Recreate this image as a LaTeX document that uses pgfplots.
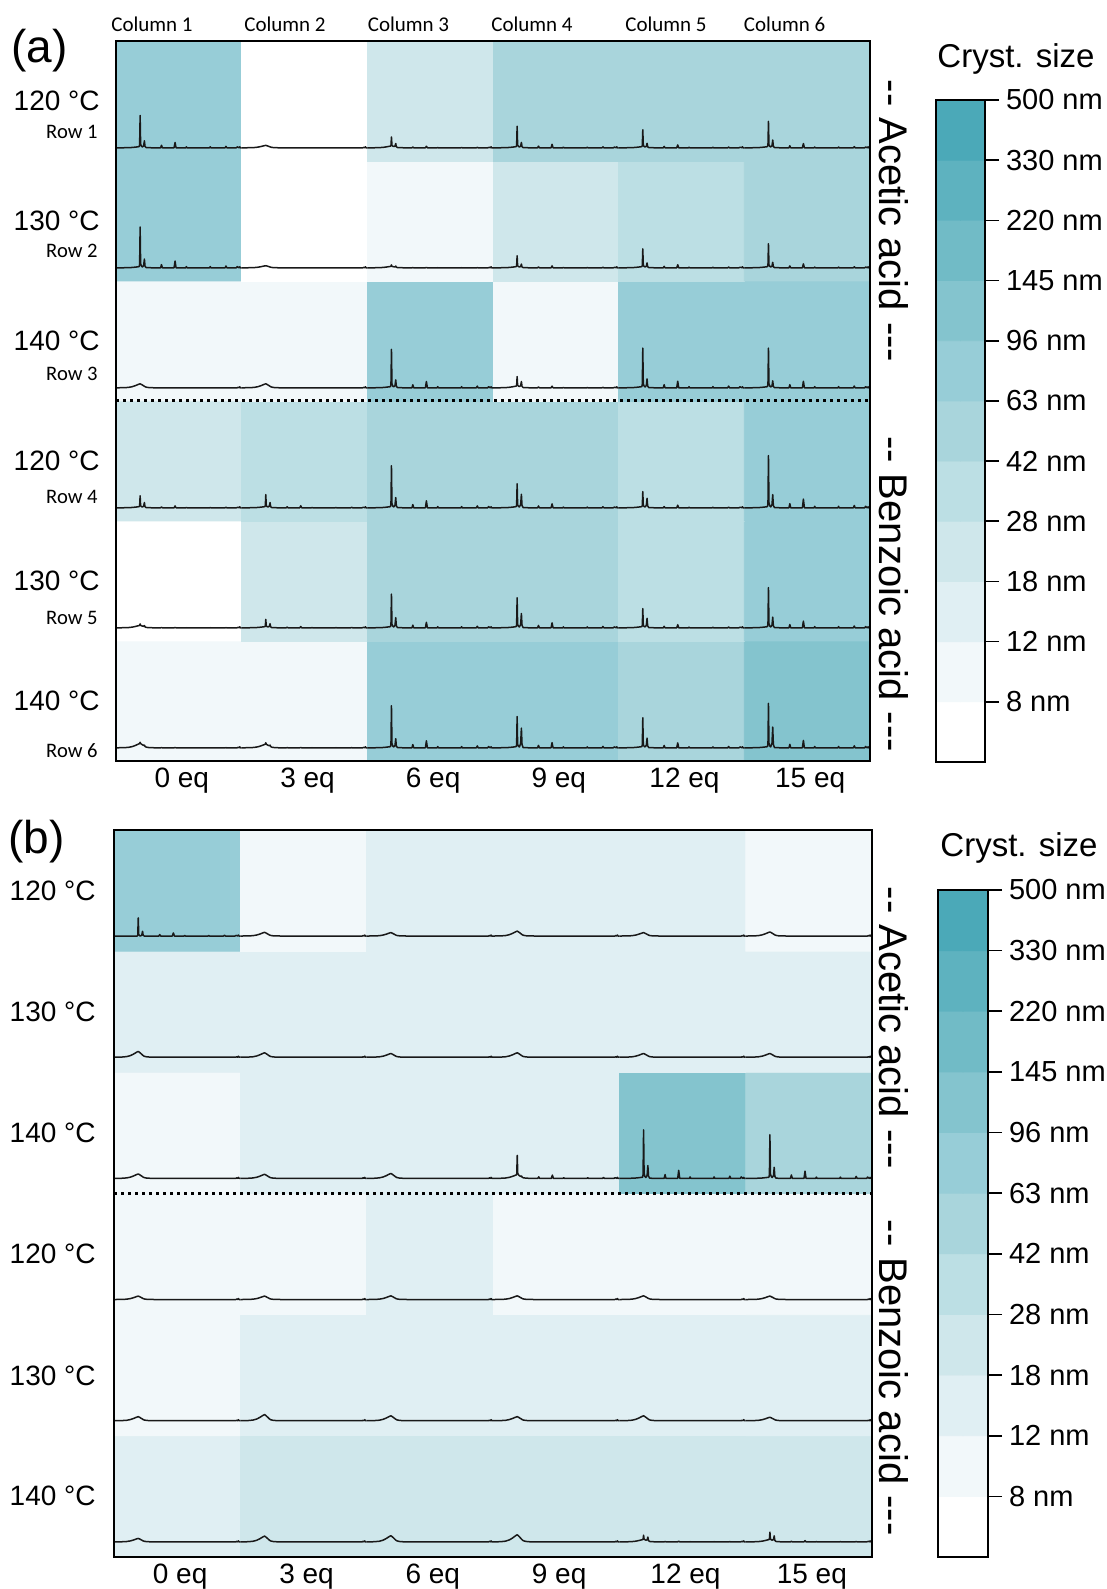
\documentclass[border=0pt]{standalone}
\usepackage{pgfplots}
\pgfplotsset{compat=1.18}
\usepackage{pgfplotstable}
\usepackage{fontspec}
\setmainfont{Liberation Sans}
\newfontfamily\calib{Carlito}

% crystallite-size colour classes: <8, 8-12, 12-18, ..., 330-500 nm
\pgfplotsset{colormap={cryst}{rgb255=(255,255,255) rgb255=(242,248,250)
  rgb255=(224,239,243) rgb255=(207,231,235) rgb255=(188,223,228)
  rgb255=(169,213,220) rgb255=(151,205,215) rgb255=(132,196,206)
  rgb255=(113,187,198) rgb255=(94,178,191) rgb255=(75,169,184)}}

% diffractogram shape within one cell (x from 0 to 1):
% m = main reflection, s = second reflection, n = minor reflections,
% w = broad amorphous hump, t = small fixed features
\pgfplotstableread{
x      m     s     n      w     t
0.000  0     0     0      0     0
0.060  0     0     0      0.02  0
0.100  0     0     0      0.10  0
0.130  0     0     0      0.28  0
0.155  0     0     0      0.55  0
0.175  0     0     0      0.82  0
0.184  0     0     0      0.93  0
0.188  0.06  0     0      0.97  0
0.192  1.00  0     0      1.00  0
0.196  0.08  0     0      0.95  0
0.202  0.02  0     0      0.85  0
0.210  0     0     0      0.70  0
0.220  0     0.20  0      0.50  0
0.226  0     1.00  0      0.38  0
0.231  0     0.15  0      0.28  0
0.240  0     0     0      0.16  0
0.260  0     0     0      0.06  0
0.290  0     0     0      0.01  0
0.355  0     0     0      0     0
0.362  0     0     0.08   0     0
0.369  0     0     0      0     0
0.462  0     0     0      0     0
0.470  0     0     0.17   0     0
0.478  0     0     0      0     0
0.555  0     0     0      0     0
0.560  0     0     0.03   0     0
0.565  0     0     0      0     0
0.745  0     0     0      0     0
0.750  0     0     0.03   0     0
0.755  0     0     0      0     0
0.868  0     0     0      0     0
0.875  0     0     0.045  0     0
0.882  0     0     0      0     0
0.958  0     0     0      0     0
0.965  0     0     0.03   0     0
0.972  0     0     0      0     0.004
0.980  0     0     0      0     0
0.985  0     0     0      0     0.008
0.990  0     0     0      0     0
1.000  0     0     0      0     0
}\pat

% size class of every sample, panel (a); bottom row first
\pgfplotstableread{
x   y   c
0.5 0.5 1
1.5 0.5 1
2.5 0.5 6
3.5 0.5 6
4.5 0.5 5
5.5 0.5 7
0.5 1.5 0
1.5 1.5 3
2.5 1.5 5
3.5 1.5 5
4.5 1.5 4
5.5 1.5 6
0.5 2.5 3
1.5 2.5 4
2.5 2.5 5
3.5 2.5 5
4.5 2.5 4
5.5 2.5 6
0.5 3.5 1
1.5 3.5 1
2.5 3.5 6
3.5 3.5 1
4.5 3.5 6
5.5 3.5 6
0.5 4.5 6
1.5 4.5 0
2.5 4.5 1
3.5 4.5 3
4.5 4.5 4
5.5 4.5 5
0.5 5.5 6
1.5 5.5 0
2.5 5.5 3
3.5 5.5 5
4.5 5.5 5
5.5 5.5 5
}\gridA

% size class of every sample, panel (b); bottom row first
\pgfplotstableread{
x   y   c
0.5 0.5 2
1.5 0.5 3
2.5 0.5 3
3.5 0.5 3
4.5 0.5 3
5.5 0.5 3
0.5 1.5 1
1.5 1.5 2
2.5 1.5 2
3.5 1.5 2
4.5 1.5 2
5.5 1.5 2
0.5 2.5 1
1.5 2.5 1
2.5 2.5 2
3.5 2.5 1
4.5 2.5 1
5.5 2.5 1
0.5 3.5 1
1.5 3.5 2
2.5 3.5 2
3.5 3.5 2
4.5 3.5 7
5.5 3.5 5
0.5 4.5 2
1.5 4.5 2
2.5 4.5 2
3.5 4.5 2
4.5 4.5 2
5.5 4.5 2
0.5 5.5 6
1.5 5.5 1
2.5 5.5 2
3.5 5.5 2
4.5 5.5 2
5.5 5.5 1
}\gridB

% colour bar classes
\pgfplotstableread{
x    y    c
0.25 0.5  0
0.75 0.5  0
0.25 1.5  1
0.75 1.5  1
0.25 2.5  2
0.75 2.5  2
0.25 3.5  3
0.75 3.5  3
0.25 4.5  4
0.75 4.5  4
0.25 5.5  5
0.75 5.5  5
0.25 6.5  6
0.75 6.5  6
0.25 7.5  7
0.75 7.5  7
0.25 8.5  8
0.75 8.5  8
0.25 9.5  9
0.75 9.5  9
0.25 10.5 10
0.75 10.5 10
}\cbar

\pgfplotsset{
  heat/.style={matrix plot*, point meta=explicit, colormap name=cryst,
    colormap access=direct},
  trace/.style={draw=black!90, line width=0.75pt, mark=none, line join=round},
  panel/.style={anchor=south west, scale only axis,
    xmin=0, xmax=6, ymin=0, ymax=6, axis on top, clip=false,
    axis line style={line width=1.2pt},
    xtick={0.5,1.5,2.5,3.5,4.5,5.5},
    xticklabels={0 eq,3 eq,6 eq,9 eq,12 eq,15 eq},
    ytick=\empty, major tick length=0pt,
    xticklabel style={font=\fontsize{14}{14}\selectfont, xshift=1.5pt, yshift=0pt}},
  sizebar/.style={anchor=south west, scale only axis,
    xmin=0, xmax=1, ymin=0, ymax=11, axis on top,
    axis line style={line width=0.8pt},
    xtick=\empty, ytick={1,...,11},
    yticklabels={8 nm,12 nm,18 nm,28 nm,42 nm,63 nm,96 nm,145 nm,220 nm,330 nm,500 nm},
    ytick pos=right, yticklabel pos=right, tick align=outside,
    major tick length=7pt, tick style={line width=0.8pt, black},
    yticklabel style={font=\fontsize{14.5}{14.5}\selectfont}},
}

% one diffractogram: column, row bottom, main height, second/main ratio, hump height
\newcommand\xrd[5]{\addplot[trace] table[x expr=\thisrow{x}+#1,
  y expr=#2+\bo+#3*\thisrow{m}+#3*#4*\thisrow{s}+#3*\thisrow{n}+#5*\thisrow{w}+\thisrow{t}]{\pat};}

\begin{document}
\begin{tikzpicture}
\useasboundingbox (0,0) rectangle (553.5pt,794.5pt);

% ---------------- panel (a) ----------------
\def\bo{0.11}
\begin{axis}[panel, at={(58pt,414pt)}, width=377pt, height=360pt]
\addplot[heat, mesh/cols=6] table[meta=c]{\gridA};
\xrd{0}{5}{0.26}{0.21}{0.01}\xrd{1}{5}{0}{0}{0.02}\xrd{2}{5}{0.075}{0.4}{0.015}
\xrd{3}{5}{0.17}{0.24}{0.01}\xrd{4}{5}{0.14}{0.24}{0.01}\xrd{5}{5}{0.21}{0.29}{0.01}
\xrd{0}{4}{0.33}{0.21}{0.01}\xrd{1}{4}{0}{0}{0.017}\xrd{2}{4}{0.012}{0.8}{0.012}
\xrd{3}{4}{0.09}{0.3}{0.01}\xrd{4}{4}{0.147}{0.25}{0.01}\xrd{5}{4}{0.19}{0.22}{0.01}
\xrd{0}{3}{0}{0}{0.033}\xrd{1}{3}{0}{0}{0.033}\xrd{2}{3}{0.31}{0.2}{0.01}
\xrd{3}{3}{0.078}{0.6}{0.015}\xrd{4}{3}{0.32}{0.22}{0.01}\xrd{5}{3}{0.32}{0.17}{0.01}
\xrd{0}{2}{0.09}{0.45}{0.01}\xrd{1}{2}{0.10}{0.4}{0.01}\xrd{2}{2}{0.34}{0.24}{0.01}
\xrd{3}{2}{0.19}{0.57}{0.01}\xrd{4}{2}{0.125}{0.6}{0.01}\xrd{5}{2}{0.425}{0.25}{0.01}
\xrd{0}{1}{0.012}{0.9}{0.02}\xrd{1}{1}{0.06}{0.5}{0.01}\xrd{2}{1}{0.27}{0.3}{0.01}
\xrd{3}{1}{0.24}{0.48}{0.01}\xrd{4}{1}{0.15}{0.5}{0.01}\xrd{5}{1}{0.325}{0.26}{0.01}
\xrd{0}{0}{0.01}{0.9}{0.036}\xrd{1}{0}{0.012}{0.9}{0.03}\xrd{2}{0}{0.34}{0.21}{0.01}
\xrd{3}{0}{0.25}{0.64}{0.01}\xrd{4}{0}{0.24}{0.32}{0.01}\xrd{5}{0}{0.36}{0.47}{0.01}
\addplot[black, line width=1.5pt, dash pattern=on 1.5pt off 2pt] coordinates {(0,3) (6,3)};
\end{axis}

\begin{axis}[sizebar, at={(468pt,413.5pt)}, width=24.5pt, height=331pt]
\addplot[heat, mesh/cols=2] table[meta=c]{\cbar};
\end{axis}

% ---------------- panel (b) ----------------
\def\bo{0.125}
\begin{axis}[panel, at={(57pt,16pt)}, width=379pt, height=363.5pt]
\addplot[heat, mesh/cols=6] table[meta=c]{\gridB};
\xrd{0}{5}{0.15}{0.26}{0}\xrd{1}{5}{0}{0}{0.03}\xrd{2}{5}{0}{0}{0.028}
\xrd{3}{5}{0}{0}{0.04}\xrd{4}{5}{0}{0}{0.028}\xrd{5}{5}{0}{0}{0.033}
\xrd{0}{4}{0}{0}{0.047}\xrd{1}{4}{0}{0}{0.036}\xrd{2}{4}{0}{0}{0.03}
\xrd{3}{4}{0}{0}{0.036}\xrd{4}{4}{0}{0}{0.03}\xrd{5}{4}{0}{0}{0.03}
\xrd{0}{3}{0}{0}{0.036}\xrd{1}{3}{0}{0}{0.033}\xrd{2}{3}{0}{0}{0.04}
\xrd{3}{3}{0.16}{0.05}{0.03}\xrd{4}{3}{0.39}{0.26}{0.01}\xrd{5}{3}{0.35}{0.25}{0.01}
\xrd{0}{2}{0}{0}{0.028}\xrd{1}{2}{0}{0}{0.028}\xrd{2}{2}{0}{0}{0.03}
\xrd{3}{2}{0}{0}{0.03}\xrd{4}{2}{0}{0}{0.03}\xrd{5}{2}{0}{0}{0.028}
\xrd{0}{1}{0}{0}{0.033}\xrd{1}{1}{0}{0}{0.05}\xrd{2}{1}{0}{0}{0.04}
\xrd{3}{1}{0}{0}{0.033}\xrd{4}{1}{0}{0}{0.04}\xrd{5}{1}{0}{0}{0.028}
\xrd{0}{0}{0}{0}{0.028}\xrd{1}{0}{0}{0}{0.047}\xrd{2}{0}{0}{0}{0.05}
\xrd{3}{0}{0}{0}{0.058}\xrd{4}{0}{0.035}{0.9}{0.02}\xrd{5}{0}{0.06}{0.7}{0.02}
\addplot[black, line width=1.5pt, dash pattern=on 1.5pt off 2pt] coordinates {(0,3) (6.03,3)};
\end{axis}

\begin{axis}[sizebar, at={(469pt,16pt)}, width=25pt, height=333.5pt]
\addplot[heat, mesh/cols=2] table[meta=c]{\cbar};
\end{axis}

% ---------------- labels ----------------
\node[font=\fontsize{23}{23}\selectfont] at (19.75pt,769pt) {(a)};
\node[font=\fontsize{23}{23}\selectfont] at (18.25pt,373.5pt) {(b)};

\foreach \lx/\txt in {76/Column 1, 142.5/Column 2, 204.25/Column 3, 266/Column 4, 333/Column 5, 392.3/Column 6}
  \node[font=\calib\fontsize{10.5}{10.5}\selectfont] at (\lx pt,782.3pt) {\txt};

\foreach \ly/\txt in {744/120 °C, 684/130 °C, 624/140 °C, 564/120 °C, 504/130 °C, 444/140 °C}
  \node[anchor=east, inner sep=0pt, font=\fontsize{14}{14}\selectfont] at (50pt,\ly pt) {\txt};
\foreach \ly/\txt in {728.6/Row 1, 668.8/Row 2, 607.5/Row 3, 546.2/Row 4, 485.3/Row 5, 419/Row 6}
  \node[anchor=east, inner sep=0pt, font=\calib\fontsize{10.3}{10.3}\selectfont] at (49pt,\ly pt) {\txt};
\foreach \ly/\txt in {349/120 °C, 288.6/130 °C, 228.3/140 °C, 167.5/120 °C, 106.7/130 °C, 46.5/140 °C}
  \node[anchor=east, inner sep=0pt, font=\fontsize{14}{14}\selectfont] at (48pt,\ly pt) {\txt};

\node[font=\fontsize{16.5}{16.5}\selectfont] at (508pt,765pt) {Cryst. size};
\node[font=\fontsize{16.5}{16.5}\selectfont] at (509.5pt,370.5pt) {Cryst. size};

\node[rotate=-90, font=\fontsize{20}{20}\selectfont] at (446.8pt,684pt) {{-}{-} Acetic acid {-}{-}{-}};
\node[rotate=-90, font=\fontsize{20}{20}\selectfont] at (446.8pt,497.5pt) {{-}{-} Benzoic acid {-}{-}{-}};
\node[rotate=-90, font=\fontsize{20}{20}\selectfont] at (447pt,280.5pt) {{-}{-} Acetic acid {-}{-}{-}};
\node[rotate=-90, font=\fontsize{20}{20}\selectfont] at (447pt,105.7pt) {{-}{-} Benzoic acid {-}{-}{-}};
\end{tikzpicture}
\end{document}
